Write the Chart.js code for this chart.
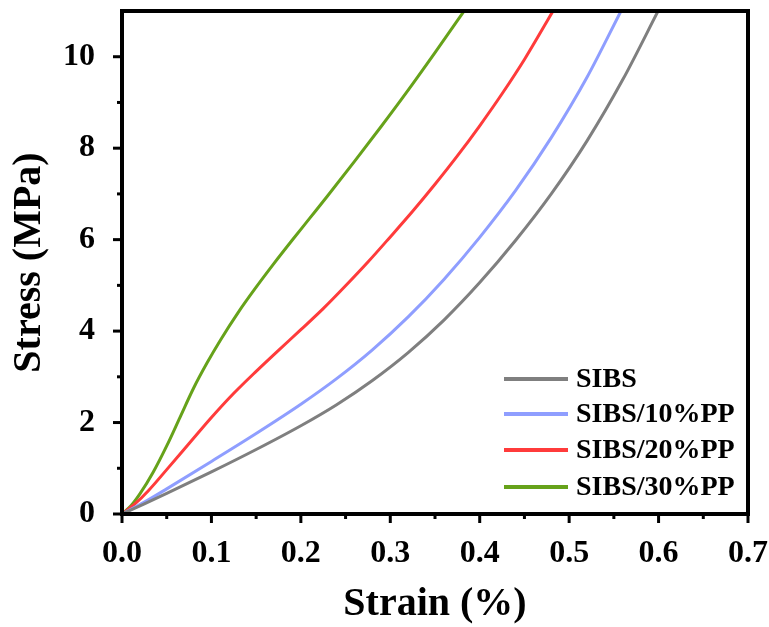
<!DOCTYPE html>
<html>
<head>
<meta charset="utf-8">
<title>Stress-strain curves</title>
<script src="https://cdn.jsdelivr.net/npm/chart.js@4/dist/chart.umd.min.js"></script>
<style>
  html, body { margin: 0; padding: 0; background: #fff; }
  #stressChart { display: block; }
</style>
</head>
<body>
<canvas id="stressChart" width="769" height="627"></canvas>
<script>
// Tensile curves, strain / stress (MPa)
const sibsStrain  = [0, 0.025, 0.05, 0.10, 0.15, 0.20, 0.24, 0.28, 0.32, 0.36, 0.40, 0.44, 0.48, 0.52, 0.56, 0.60];
const sibsStress  = [0, 0.22, 0.45, 0.92, 1.41, 1.93, 2.39, 2.92, 3.53, 4.24, 5.06, 5.98, 7.00, 8.16, 9.50, 11.02];

const pp10Strain  = [0, 0.025, 0.05, 0.10, 0.15, 0.20, 0.24, 0.28, 0.32, 0.36, 0.40, 0.44, 0.48, 0.52, 0.558];
const pp10Stress  = [0, 0.26, 0.55, 1.15, 1.76, 2.40, 2.96, 3.59, 4.31, 5.13, 6.05, 7.07, 8.23, 9.55, 11.00];

const pp20Strain  = [0, 0.015, 0.03, 0.05, 0.075, 0.10, 0.125, 0.15, 0.175, 0.20, 0.225, 0.25, 0.275, 0.30, 0.325, 0.35, 0.375, 0.40, 0.425, 0.45, 0.482];
const pp20Stress  = [0, 0.23, 0.52, 0.97, 1.54, 2.11, 2.64, 3.12, 3.58, 4.03, 4.49, 4.99, 5.51, 6.06, 6.62, 7.21, 7.83, 8.49, 9.19, 9.94, 11.00];

const pp30Strain  = [0, 0.01, 0.02, 0.035, 0.05, 0.065, 0.08, 0.095, 0.11, 0.13, 0.15, 0.17, 0.19, 0.21, 0.23, 0.26, 0.29, 0.32, 0.35, 0.384];
const pp30Stress  = [0, 0.18, 0.44, 0.92, 1.49, 2.12, 2.75, 3.30, 3.80, 4.41, 4.96, 5.48, 5.98, 6.47, 6.96, 7.71, 8.48, 9.27, 10.09, 11.04];

const seriesLabels = ['SIBS', 'SIBS/10%PP', 'SIBS/20%PP', 'SIBS/30%PP'];
const seriesColors = ['#7f7f7f', '#8f9eff', '#ff3b3b', '#66a21a'];

const xTickValues = [0, 0.1, 0.2, 0.3, 0.4, 0.5, 0.6, 0.7];
const yTickValues = [0, 2, 4, 6, 8, 10];

const toPoints = (xs, ys) => xs.map((x, i) => ({ x: x, y: ys[i] }));

const serif = 'Liberation Serif, "Times New Roman", serif';

// frame + outward major/minor ticks
const framePlugin = {
    id: 'frame',
    afterDraw(chart) {
        const ctx = chart.ctx;
        const a = chart.chartArea;
        const xs = chart.scales.x;
        const ys = chart.scales.y;
        ctx.save();
        ctx.strokeStyle = '#000';
        ctx.lineCap = 'butt';

        ctx.lineWidth = 3;
        xTickValues.forEach((v, i) => {
            const px = xs.getPixelForValue(v);
            ctx.beginPath();
            ctx.moveTo(px, a.bottom);
            ctx.lineTo(px, a.bottom + 9);
            ctx.stroke();
            if (i < xTickValues.length - 1) {
                const mx = xs.getPixelForValue((v + xTickValues[i + 1]) / 2);
                ctx.beginPath();
                ctx.moveTo(mx, a.bottom);
                ctx.lineTo(mx, a.bottom + 5);
                ctx.stroke();
            }
        });
        yTickValues.forEach(v => {
            const py = ys.getPixelForValue(v);
            ctx.beginPath();
            ctx.moveTo(a.left, py);
            ctx.lineTo(a.left - 9, py);
            ctx.stroke();
            const mv = v + 1;
            if (mv < ys.max) {
                const my = ys.getPixelForValue(mv);
                ctx.beginPath();
                ctx.moveTo(a.left, my);
                ctx.lineTo(a.left - 5, my);
                ctx.stroke();
            }
        });

        ctx.lineWidth = 4;
        ctx.strokeRect(a.left, a.top, a.right - a.left, a.bottom - a.top);
        ctx.restore();
    }
};

// legend drawn inside the plot, lower right
const insideLegend = {
    id: 'insideLegend',
    afterDraw(chart) {
        const ctx = chart.ctx;
        const rows = [379, 414, 450, 487];
        ctx.save();
        ctx.font = 'bold 28px ' + serif;
        ctx.textBaseline = 'middle';
        ctx.textAlign = 'left';
        chart.data.datasets.forEach((ds, i) => {
            const y = rows[i];
            ctx.strokeStyle = ds.borderColor;
            ctx.lineWidth = 4;
            ctx.beginPath();
            ctx.moveTo(504, y);
            ctx.lineTo(568, y);
            ctx.stroke();
            ctx.fillStyle = '#000';
            ctx.fillText(ds.label, 576, y + 1);
        });
        ctx.restore();
    }
};

const ctx = document.getElementById('stressChart').getContext('2d');
new Chart(ctx, {
    type: 'line',
    data: {
        datasets: [
            { label: seriesLabels[0], data: toPoints(sibsStrain, sibsStress), borderColor: seriesColors[0] },
            { label: seriesLabels[1], data: toPoints(pp10Strain, pp10Stress), borderColor: seriesColors[1] },
            { label: seriesLabels[2], data: toPoints(pp20Strain, pp20Stress), borderColor: seriesColors[2] },
            { label: seriesLabels[3], data: toPoints(pp30Strain, pp30Stress), borderColor: seriesColors[3] }
        ]
    },
    options: {
        responsive: false,
        animation: false,
        devicePixelRatio: 1,
        layout: { padding: { top: 11, right: 21, left: 0, bottom: 0 } },
        elements: {
            point: { radius: 0 },
            line: { borderWidth: 3, cubicInterpolationMode: 'monotone', fill: false }
        },
        plugins: {
            legend: { display: false },
            tooltip: { enabled: false }
        },
        scales: {
            x: {
                type: 'linear',
                min: 0,
                max: 0.7,
                grid: { display: false },
                border: { display: false },
                afterFit(scale) {
                    scale.height = 113;
                    scale.paddingLeft = 0;
                    scale.paddingRight = 0;
                },
                afterBuildTicks(scale) { scale.ticks = xTickValues.map(v => ({ value: v })); },
                ticks: {
                    padding: 13,
                    color: '#000',
                    font: { family: serif, size: 32, weight: 'bold' },
                    callback: v => v.toFixed(1)
                },
                title: {
                    display: true,
                    text: 'Strain (%)',
                    color: '#000',
                    font: { family: serif, size: 40, weight: 'bold' },
                    padding: { top: 0, bottom: -2 }
                }
            },
            y: {
                min: 0,
                max: 11,
                grid: { display: false },
                border: { display: false },
                afterFit(scale) {
                    scale.width = 122;
                    scale.paddingTop = 0;
                    scale.paddingBottom = 0;
                },
                afterBuildTicks(scale) { scale.ticks = yTickValues.map(v => ({ value: v })); },
                ticks: {
                    padding: 19,
                    color: '#000',
                    font: { family: serif, size: 32, weight: 'bold' },
                    callback: v => String(v)
                },
                title: {
                    display: true,
                    text: 'Stress (MPa)',
                    color: '#000',
                    font: { family: serif, size: 40, weight: 'bold' },
                    padding: { top: 6, bottom: 0 }
                }
            }
        }
    },
    plugins: [framePlugin, insideLegend]
});
</script>
</body>
</html>
